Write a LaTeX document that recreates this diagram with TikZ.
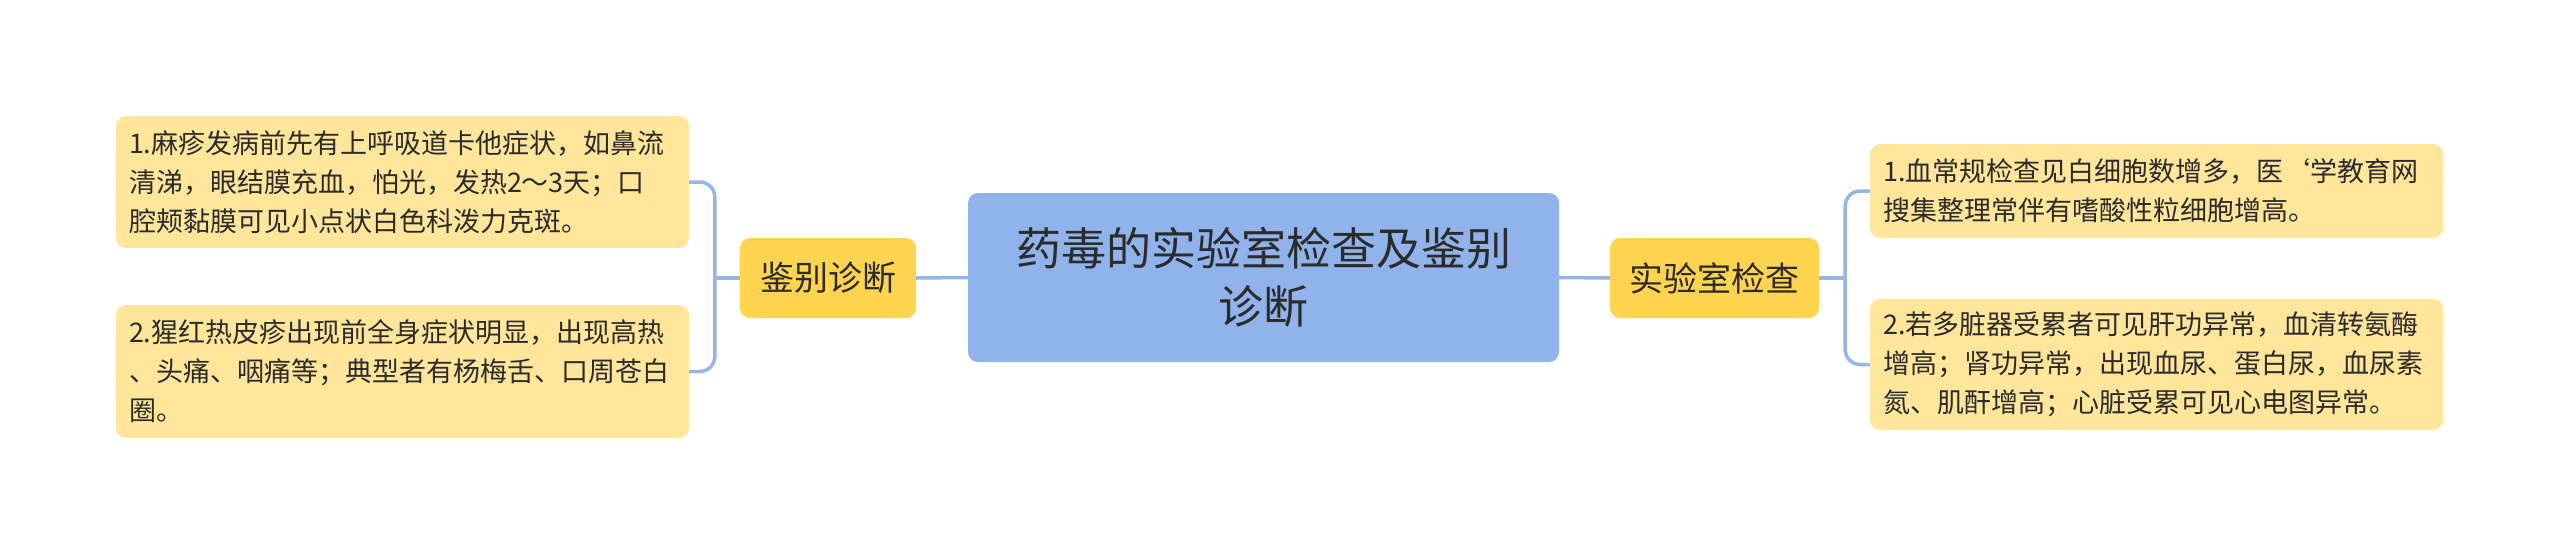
\documentclass[tikz,border=0pt]{standalone}
\usepackage{fontspec}
\setmainfont{Noto Sans CJK SC}
\definecolor{cmain}{HTML}{8FB3EA}
\definecolor{csub}{HTML}{FFD44F}
\definecolor{cleaf}{HTML}{FFE69A}
\definecolor{cline}{HTML}{95B4E8}
\definecolor{ctext}{HTML}{2B2B2B}
\begin{document}
\begin{tikzpicture}[x=1pt,y=-1pt,
  mainbox/.style={fill=cmain, rounded corners=10pt, minimum width=591pt, minimum height=169pt, text=ctext, align=center, font=\fontsize{45}{58}\selectfont, inner sep=0pt},
  subbox/.style={fill=csub, rounded corners=10pt, minimum height=80pt, text=ctext, font=\fontsize{34}{40}\selectfont, inner sep=0pt},
  leafbox/.style={fill=cleaf, rounded corners=10pt, minimum width=573pt, text width=547pt, align=left, text=ctext, font=\fontsize{27}{39}\selectfont, inner xsep=13pt, inner ysep=0pt},
  conn/.style={draw=cline, line width=3.5pt}]
\useasboundingbox (0,0) rectangle (2560,557);
\node[mainbox] (M) at (1263.5,277.5) {药毒的实验室检查及鉴别\\诊断};
\node[subbox, minimum width=176pt] (LS) at (828,278) {鉴别诊断};
\node[subbox, minimum width=209pt] (RS) at (1714.5,278) {实验室检查};
\node[leafbox, minimum height=132pt] (L1) at (402.5,182) {1.麻疹发病前先有上呼吸道卡他症状，如鼻流\\清涕，眼结膜充血，怕光，发热2～3天；口\\腔颊黏膜可见小点状白色科泼力克斑。};
\node[leafbox, minimum height=133pt] (L2) at (402.5,371.5) {2.猩红热皮疹出现前全身症状明显，出现高热\\、头痛、咽痛等；典型者有杨梅舌、口周苍白\\圈。};
\node[leafbox, minimum height=94pt] (R1) at (2156.5,191) {1.血常规检查见白细胞数增多，医{\char"60}学教育网\\搜集整理常伴有嗜酸性粒细胞增高。};
\node[leafbox, minimum height=131pt] (R2) at (2156.5,364.5) {2.若多脏器受累者可见肝功异常，血清转氨酶\\增高；肾功异常，出现血尿、蛋白尿，血尿素\\氮、肌酐增高；心脏受累可见心电图异常。};
\draw[conn] (M.west) -- (LS.east);
\draw[conn] (M.east) -- (RS.west);
\draw[conn] (LS.west) -- ++(-25,0) coordinate (lb);
\draw[conn, rounded corners=15pt] (L1.east) -- (L1.east -| lb) -- (L2.east -| lb) -- (L2.east);
\draw[conn] (RS.east) -- ++(26,0) coordinate (rb);
\draw[conn, rounded corners=15pt] (R1.west) -- (R1.west -| rb) -- (R2.west -| rb) -- (R2.west);
\end{tikzpicture}
\end{document}
